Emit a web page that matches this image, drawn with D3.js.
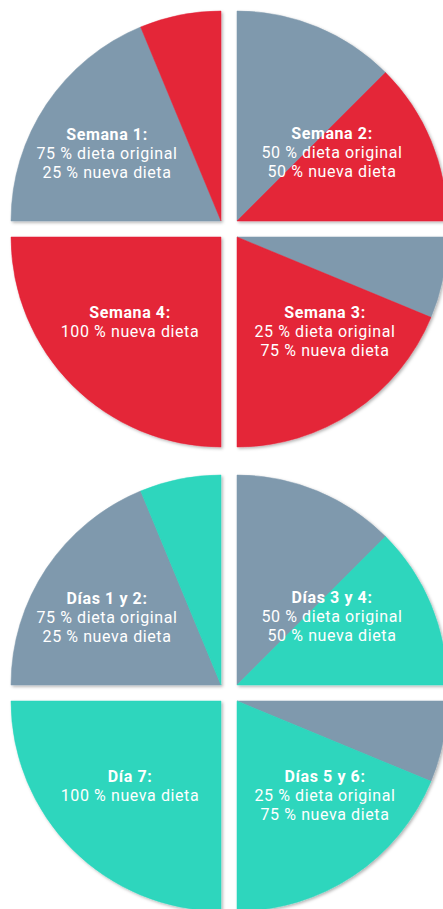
<!DOCTYPE html>
<html>
<head>
<meta charset="utf-8">
<script src="https://cdn.jsdelivr.net/npm/d3@7"></script>
<style>
  html, body { margin: 0; padding: 0; background: #fff; }
  svg { display: block; }
</style>
</head>
<body>
<script>
// datos: cuatro etapas por círculo, en orden de las agujas del reloj
const semanaLabels = ["Semana 1:", "Semana 2:", "Semana 3:", "Semana 4:"];
const diaLabels = ["Días 1 y 2:", "Días 3 y 4:", "Días 5 y 6:", "Día 7:"];
const dietaOriginal = [75, 50, 25, 0];
const nuevaDieta = [25, 50, 75, 100];

const width = 443, height = 909;
const radius = 210, gap = 8;
const colorOriginal = "#7f99ad";

const svg = d3.select("body").append("svg")
    .attr("width", width)
    .attr("height", height);

const defs = svg.append("defs");
defs.append("filter")
    .attr("id", "sombra")
    .attr("x", "-10%").attr("y", "-10%")
    .attr("width", "130%").attr("height", "130%")
    .append("feDropShadow")
    .attr("dx", 1.5).attr("dy", 1.5)
    .attr("stdDeviation", 1.5)
    .attr("flood-color", "#000")
    .attr("flood-opacity", 0.3);

const arc = d3.arc().innerRadius(0).outerRadius(radius);

// desplazamiento de cada cuadrante y posicion de la etiqueta (primera linea)
const quadOffset = [[-gap, -gap], [gap, -gap], [gap, gap], [-gap, gap]];
const labelPos = [[-122, -89], [103, -90], [96, 89], [-99, 89]];

function drawCircle(cx, cy, labels, colorNueva) {
    const g = svg.append("g").attr("transform", `translate(${cx},${cy})`);

    labels.forEach((label, i) => {
        const start = (i - 1) * Math.PI / 2; // TL, TR, BR, BL
        const pie = d3.pie()
            .sort(null)
            .value(d => d.v)
            .startAngle(start)
            .endAngle(start + Math.PI / 2);

        const parts = [
            { v: dietaOriginal[i], color: colorOriginal },
            { v: nuevaDieta[i], color: colorNueva }
        ];

        const q = g.append("g")
            .attr("transform", `translate(${quadOffset[i][0]},${quadOffset[i][1]})`);

        q.append("g")
            .attr("filter", "url(#sombra)")
            .selectAll("path")
            .data(pie(parts).filter(d => d.data.v > 0))
            .join("path")
            .attr("d", arc)
            .attr("fill", d => d.data.color)
            .attr("stroke", d => d.data.color)
            .attr("stroke-width", 0.5);

        const lines = [label];
        if (dietaOriginal[i] > 0) lines.push(`${dietaOriginal[i]} % dieta original`);
        lines.push(`${nuevaDieta[i]} % nueva dieta`);

        g.append("g")
            .selectAll("text")
            .data(lines)
            .join("text")
            .attr("x", labelPos[i][0])
            .attr("y", (d, j) => labelPos[i][1] + j * 19)
            .attr("text-anchor", "middle")
            .attr("fill", "#fff")
            .style("font-family", "Roboto, sans-serif")
            .style("font-size", "16px")
            .style("letter-spacing", (d, j) => j === 0 ? "0.6px" : "0.6px")
            .attr("font-weight", (d, j) => j === 0 ? 700 : 400)
            .text(d => d);
    });
}

drawCircle(229, 229, semanaLabels, "#e42539");
drawCircle(229, 693, diaLabels, "#2dd6bd");
</script>
</body>
</html>
